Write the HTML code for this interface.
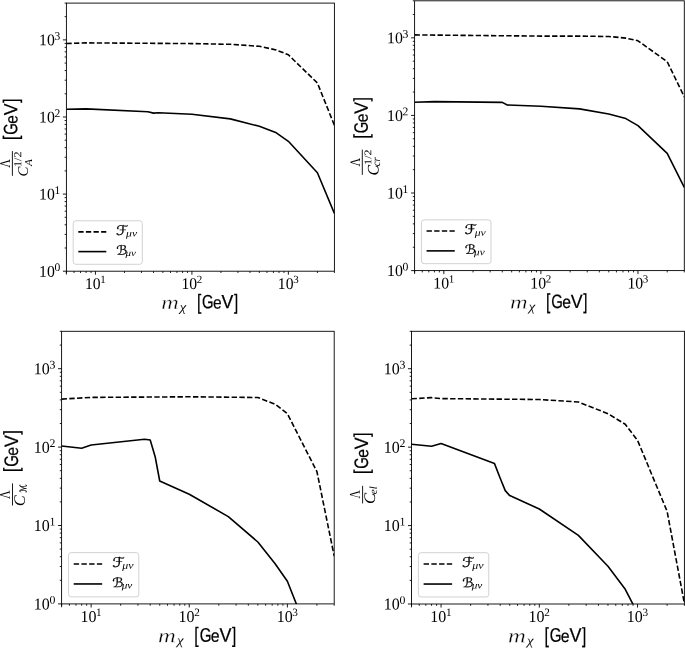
<!DOCTYPE html>
<html><head><meta charset="utf-8"><style>
html,body{margin:0;padding:0;background:#fff;}
svg{display:block;}
text{font-kerning:none;}
</style></head><body>
<svg width="685" height="648" viewBox="0 0 685 648">
<rect width="685" height="648" fill="#fff"/>
<clipPath id="c0"><rect x="66.40" y="3.10" width="268.00" height="268.10"/></clipPath>
<g clip-path="url(#c0)" fill="none" stroke="#000" stroke-width="1.6" stroke-linejoin="round">
<polyline points="66.40,43.50 86.09,42.90 191.91,43.60 230.29,44.30 259.33,46.30 276.32,50.00 288.37,54.80 317.41,83.00 334.40,125.30" stroke-dasharray="5.30 2.30"/>
<polyline points="66.40,109.30 86.09,108.90 147.92,111.70 153.52,113.10 158.45,112.70 191.91,114.20 230.29,118.90 259.33,126.30 276.32,132.80 288.37,141.30 317.41,172.80 334.40,213.50"/>
</g>
<path d="M95.44 271.20v3.50 M191.91 271.20v3.50 M288.37 271.20v3.50 M66.40 271.20v3.30 M66.40 271.20h-3.50 M66.40 194.10h-3.50 M66.40 116.99h-3.50 M66.40 39.89h-3.50" stroke="#000" stroke-width="0.9" fill="none"/>
<path d="M66.40 247.99h-1.80 M66.40 234.41h-1.80 M66.40 224.78h-1.80 M66.40 271.20v1.80 M66.40 217.31h-1.80 M74.04 271.20v1.80 M66.40 211.20h-1.80 M80.50 271.20v1.80 M66.40 206.04h-1.80 M86.09 271.20v1.80 M66.40 201.57h-1.80 M91.03 271.20v1.80 M66.40 197.62h-1.80 M124.48 271.20v1.80 M66.40 170.89h-1.80 M141.47 271.20v1.80 M66.40 157.31h-1.80 M153.52 271.20v1.80 M66.40 147.67h-1.80 M162.87 271.20v1.80 M66.40 140.20h-1.80 M170.51 271.20v1.80 M66.40 134.10h-1.80 M176.96 271.20v1.80 M66.40 128.94h-1.80 M182.56 271.20v1.80 M66.40 124.46h-1.80 M187.49 271.20v1.80 M66.40 120.52h-1.80 M220.95 271.20v1.80 M66.40 93.78h-1.80 M237.93 271.20v1.80 M66.40 80.20h-1.80 M249.99 271.20v1.80 M66.40 70.57h-1.80 M259.33 271.20v1.80 M66.40 63.10h-1.80 M266.97 271.20v1.80 M66.40 56.99h-1.80 M273.43 271.20v1.80 M66.40 51.83h-1.80 M279.02 271.20v1.80 M66.40 47.36h-1.80 M283.96 271.20v1.80 M66.40 43.42h-1.80 M317.41 271.20v1.80 M66.40 16.68h-1.80 M334.40 271.20v1.80 M66.40 3.10h-1.80" stroke="#000" stroke-width="0.85" fill="none"/>
<rect x="66.40" y="3.10" width="268.00" height="268.10" fill="none" stroke="#000" stroke-width="0.9"/>
<line x1="12.40" y1="151.10" x2="12.40" y2="175.80" stroke="#000" stroke-width="0.9"/>
<rect x="73.20" y="220.80" width="69.10" height="43.50" rx="2.60" fill="#fff" fill-opacity="0.8" stroke="#cdcdcd" stroke-width="0.9"/>
<line x1="78.30" y1="231.90" x2="106.30" y2="231.90" stroke="#000" stroke-width="1.6" stroke-dasharray="5.30 2.30"/>
<line x1="78.30" y1="251.60" x2="106.30" y2="251.60" stroke="#000" stroke-width="1.6"/>
<clipPath id="c1"><rect x="414.60" y="0.80" width="269.70" height="269.80"/></clipPath>
<g clip-path="url(#c1)" fill="none" stroke="#000" stroke-width="1.6" stroke-linejoin="round">
<polyline points="414.60,34.90 540.90,36.10 579.53,36.10 608.76,36.50 625.85,38.10 637.98,40.80 667.21,61.70 684.30,96.80" stroke-dasharray="5.33 2.31"/>
<polyline points="414.60,102.30 434.42,101.60 502.27,102.40 507.24,105.00 540.90,106.30 579.53,108.90 608.76,114.00 625.85,118.60 637.98,125.60 667.21,153.30 684.30,187.50"/>
</g>
<path d="M443.82 270.60v3.52 M540.90 270.60v3.52 M637.98 270.60v3.52 M414.60 270.60v3.32 M414.60 270.60h-3.52 M414.60 193.01h-3.52 M414.60 115.41h-3.52 M414.60 37.82h-3.52" stroke="#000" stroke-width="0.9" fill="none"/>
<path d="M414.60 247.24h-1.81 M414.60 233.58h-1.81 M414.60 223.88h-1.81 M414.60 270.60v1.81 M414.60 216.36h-1.81 M422.29 270.60v1.81 M414.60 210.22h-1.81 M428.79 270.60v1.81 M414.60 205.03h-1.81 M434.42 270.60v1.81 M414.60 200.53h-1.81 M439.38 270.60v1.81 M414.60 196.56h-1.81 M473.05 270.60v1.81 M414.60 169.65h-1.81 M490.14 270.60v1.81 M414.60 155.99h-1.81 M502.27 270.60v1.81 M414.60 146.29h-1.81 M511.68 270.60v1.81 M414.60 138.77h-1.81 M519.37 270.60v1.81 M414.60 132.63h-1.81 M525.86 270.60v1.81 M414.60 127.43h-1.81 M531.49 270.60v1.81 M414.60 122.93h-1.81 M536.46 270.60v1.81 M414.60 118.96h-1.81 M570.13 270.60v1.81 M414.60 92.06h-1.81 M587.22 270.60v1.81 M414.60 78.39h-1.81 M599.35 270.60v1.81 M414.60 68.70h-1.81 M608.76 270.60v1.81 M414.60 61.18h-1.81 M616.44 270.60v1.81 M414.60 55.04h-1.81 M622.94 270.60v1.81 M414.60 49.84h-1.81 M628.57 270.60v1.81 M414.60 45.34h-1.81 M633.54 270.60v1.81 M414.60 41.37h-1.81 M667.21 270.60v1.81 M414.60 14.46h-1.81 M684.30 270.60v1.81 M414.60 0.80h-1.81" stroke="#000" stroke-width="0.85" fill="none"/>
<rect x="414.60" y="0.80" width="269.70" height="269.80" fill="none" stroke="#000" stroke-width="0.9"/>
<line x1="362.30" y1="149.60" x2="362.30" y2="174.90" stroke="#000" stroke-width="0.9"/>
<rect x="421.44" y="219.88" width="69.54" height="43.78" rx="2.62" fill="#fff" fill-opacity="0.8" stroke="#cdcdcd" stroke-width="0.9"/>
<line x1="426.58" y1="231.05" x2="454.75" y2="231.05" stroke="#000" stroke-width="1.6" stroke-dasharray="5.33 2.31"/>
<line x1="426.58" y1="250.88" x2="454.75" y2="250.88" stroke="#000" stroke-width="1.6"/>
<clipPath id="c2"><rect x="61.60" y="331.30" width="272.60" height="272.60"/></clipPath>
<g clip-path="url(#c2)" fill="none" stroke="#000" stroke-width="1.6" stroke-linejoin="round">
<polyline points="61.60,399.10 91.14,397.40 189.26,396.80 257.85,397.50 275.12,404.20 287.38,413.70 316.92,471.60 334.20,556.00" stroke-dasharray="5.39 2.34"/>
<polyline points="61.60,446.00 81.63,448.20 91.14,445.00 144.52,439.30 150.21,440.00 155.23,457.00 159.72,481.00 189.26,494.30 228.31,516.60 257.85,542.00 275.12,563.70 287.38,581.30 296.60,604.60"/>
</g>
<path d="M91.14 603.90v3.56 M189.26 603.90v3.56 M287.38 603.90v3.56 M61.60 603.90v3.36 M61.60 603.90h-3.56 M61.60 525.50h-3.56 M61.60 447.10h-3.56 M61.60 368.71h-3.56" stroke="#000" stroke-width="0.9" fill="none"/>
<path d="M61.60 580.30h-1.83 M61.60 566.49h-1.83 M61.60 556.70h-1.83 M61.60 603.90v1.83 M61.60 549.10h-1.83 M69.37 603.90v1.83 M61.60 542.89h-1.83 M75.94 603.90v1.83 M61.60 537.65h-1.83 M81.63 603.90v1.83 M61.60 533.10h-1.83 M86.65 603.90v1.83 M61.60 529.09h-1.83 M120.68 603.90v1.83 M61.60 501.90h-1.83 M137.95 603.90v1.83 M61.60 488.10h-1.83 M150.21 603.90v1.83 M61.60 478.30h-1.83 M159.72 603.90v1.83 M61.60 470.70h-1.83 M167.49 603.90v1.83 M61.60 464.50h-1.83 M174.06 603.90v1.83 M61.60 459.25h-1.83 M179.75 603.90v1.83 M61.60 454.70h-1.83 M184.77 603.90v1.83 M61.60 450.69h-1.83 M218.80 603.90v1.83 M61.60 423.50h-1.83 M236.08 603.90v1.83 M61.60 409.70h-1.83 M248.34 603.90v1.83 M61.60 399.90h-1.83 M257.85 603.90v1.83 M61.60 392.31h-1.83 M265.62 603.90v1.83 M61.60 386.10h-1.83 M272.18 603.90v1.83 M61.60 380.85h-1.83 M277.87 603.90v1.83 M61.60 376.30h-1.83 M282.89 603.90v1.83 M61.60 372.29h-1.83 M316.92 603.90v1.83 M61.60 345.11h-1.83 M334.20 603.90v1.83 M61.60 331.30h-1.83" stroke="#000" stroke-width="0.85" fill="none"/>
<rect x="61.60" y="331.30" width="272.60" height="272.60" fill="none" stroke="#000" stroke-width="0.9"/>
<line x1="12.50" y1="483.40" x2="12.50" y2="505.50" stroke="#000" stroke-width="0.9"/>
<rect x="68.52" y="552.63" width="70.29" height="44.25" rx="2.64" fill="#fff" fill-opacity="0.8" stroke="#cdcdcd" stroke-width="0.9"/>
<line x1="73.70" y1="563.93" x2="102.18" y2="563.93" stroke="#000" stroke-width="1.6" stroke-dasharray="5.39 2.34"/>
<line x1="73.70" y1="583.96" x2="102.18" y2="583.96" stroke="#000" stroke-width="1.6"/>
<clipPath id="c3"><rect x="411.50" y="331.30" width="272.90" height="272.70"/></clipPath>
<g clip-path="url(#c3)" fill="none" stroke="#000" stroke-width="1.6" stroke-linejoin="round">
<polyline points="411.50,398.80 431.55,397.60 441.07,398.60 539.30,399.50 578.39,402.00 607.96,413.70 625.26,424.30 637.53,440.30 667.10,511.30 684.40,603.50" stroke-dasharray="5.40 2.34"/>
<polyline points="411.50,444.20 431.55,446.30 441.07,443.50 494.51,463.60 500.21,478.30 505.24,490.60 509.73,495.60 539.30,509.00 578.39,535.40 607.96,566.20 625.26,589.30 633.20,604.70"/>
</g>
<path d="M441.07 604.00v3.56 M539.30 604.00v3.56 M637.53 604.00v3.56 M411.50 604.00v3.36 M411.50 604.00h-3.56 M411.50 525.57h-3.56 M411.50 447.15h-3.56 M411.50 368.72h-3.56" stroke="#000" stroke-width="0.9" fill="none"/>
<path d="M411.50 580.39h-1.83 M411.50 566.58h-1.83 M411.50 556.78h-1.83 M411.50 604.00v1.83 M411.50 549.18h-1.83 M419.28 604.00v1.83 M411.50 542.97h-1.83 M425.85 604.00v1.83 M411.50 537.72h-1.83 M431.55 604.00v1.83 M411.50 533.17h-1.83 M436.58 604.00v1.83 M411.50 529.16h-1.83 M470.64 604.00v1.83 M411.50 501.96h-1.83 M487.94 604.00v1.83 M411.50 488.15h-1.83 M500.21 604.00v1.83 M411.50 478.36h-1.83 M509.73 604.00v1.83 M411.50 470.75h-1.83 M517.51 604.00v1.83 M411.50 464.55h-1.83 M524.09 604.00v1.83 M411.50 459.29h-1.83 M529.78 604.00v1.83 M411.50 454.75h-1.83 M534.81 604.00v1.83 M411.50 450.73h-1.83 M568.87 604.00v1.83 M411.50 423.54h-1.83 M586.17 604.00v1.83 M411.50 409.73h-1.83 M598.44 604.00v1.83 M411.50 399.93h-1.83 M607.96 604.00v1.83 M411.50 392.33h-1.83 M615.74 604.00v1.83 M411.50 386.12h-1.83 M622.32 604.00v1.83 M411.50 380.87h-1.83 M628.01 604.00v1.83 M411.50 376.32h-1.83 M633.04 604.00v1.83 M411.50 372.31h-1.83 M667.10 604.00v1.83 M411.50 345.11h-1.83 M684.40 604.00v1.83 M411.50 331.30h-1.83" stroke="#000" stroke-width="0.85" fill="none"/>
<rect x="411.50" y="331.30" width="272.90" height="272.70" fill="none" stroke="#000" stroke-width="0.9"/>
<line x1="362.60" y1="485.80" x2="362.60" y2="503.40" stroke="#000" stroke-width="0.9"/>
<rect x="418.42" y="552.68" width="70.36" height="44.30" rx="2.65" fill="#fff" fill-opacity="0.8" stroke="#cdcdcd" stroke-width="0.9"/>
<line x1="423.62" y1="563.98" x2="452.13" y2="563.98" stroke="#000" stroke-width="1.6" stroke-dasharray="5.40 2.34"/>
<line x1="423.62" y1="584.04" x2="452.13" y2="584.04" stroke="#000" stroke-width="1.6"/>
<g font-size="100" fill="#000">
<text transform="translate(39.08,276.64) skewY(0.05) scale(0.1575,0.1627)" font-family="'Liberation Serif', serif">10</text>
<text transform="translate(39.08,199.53) skewY(0.05) scale(0.1575,0.1627)" font-family="'Liberation Serif', serif">10</text>
<text transform="translate(39.08,122.43) skewY(0.05) scale(0.1575,0.1627)" font-family="'Liberation Serif', serif">10</text>
<text transform="translate(39.08,45.33) skewY(0.05) scale(0.1575,0.1627)" font-family="'Liberation Serif', serif">10</text>
<text transform="translate(84.93,288.94) skewY(0.05) scale(0.1569,0.1627)" font-family="'Liberation Serif', serif">10</text>
<text transform="translate(181.39,288.94) skewY(0.05) scale(0.1569,0.1627)" font-family="'Liberation Serif', serif">10</text>
<text transform="translate(277.86,288.94) skewY(0.05) scale(0.1569,0.1627)" font-family="'Liberation Serif', serif">10</text>
<text transform="translate(161.13,309.00) skewY(0.05) scale(0.2422,0.1957)" font-family="'Liberation Serif', serif" font-style="italic" stroke="#fff" stroke-width="1.60" stroke-linejoin="round">m</text>
<text transform="translate(179.87,311.17) skewY(0.05) scale(0.1463,0.1299)" font-family="'Liberation Serif', serif" font-style="italic">χ</text>
<text transform="translate(196.91,309.15) skewY(0.05) scale(0.1550,0.2118)" font-family="'Liberation Sans', sans-serif" stroke="#000" stroke-width="1.09" stroke-linejoin="round">[</text>
<text transform="translate(202.11,308.31) skewY(0.05) scale(0.1485,0.1937)" font-family="'Liberation Sans', sans-serif" stroke="#000" stroke-width="1.17" stroke-linejoin="round">G</text>
<text transform="translate(213.02,308.43) skewY(0.05) scale(0.1564,0.1736)" font-family="'Liberation Sans', sans-serif" stroke="#000" stroke-width="1.21" stroke-linejoin="round">e</text>
<text transform="translate(221.57,308.30) skewY(0.05) scale(0.1769,0.1913)" font-family="'Liberation Sans', sans-serif" stroke="#000" stroke-width="1.09" stroke-linejoin="round">V</text>
<text transform="translate(233.90,309.15) skewY(0.05) scale(0.1500,0.2118)" font-family="'Liberation Sans', sans-serif" stroke="#000" stroke-width="1.11" stroke-linejoin="round">]</text>
<text transform="translate(17.77,139.89) rotate(-90) skewY(0.05) scale(0.1552,0.2067)" font-family="'Liberation Sans', sans-serif" stroke="#000" stroke-width="1.11" stroke-linejoin="round">[</text>
<text transform="translate(17.31,134.69) rotate(-90) skewY(0.05) scale(0.1487,0.1939)" font-family="'Liberation Sans', sans-serif" stroke="#000" stroke-width="1.17" stroke-linejoin="round">G</text>
<text transform="translate(17.43,123.76) rotate(-90) skewY(0.05) scale(0.1566,0.1739)" font-family="'Liberation Sans', sans-serif" stroke="#000" stroke-width="1.21" stroke-linejoin="round">e</text>
<text transform="translate(17.30,115.20) rotate(-90) skewY(0.05) scale(0.1771,0.1915)" font-family="'Liberation Sans', sans-serif" stroke="#000" stroke-width="1.08" stroke-linejoin="round">V</text>
<text transform="translate(17.77,102.85) rotate(-90) skewY(0.05) scale(0.1502,0.2067)" font-family="'Liberation Sans', sans-serif" stroke="#000" stroke-width="1.12" stroke-linejoin="round">]</text>
<text transform="translate(10.00,167.72) rotate(-90) skewY(0.05) scale(0.1200,0.1485)" font-family="'Liberation Serif', serif">Λ</text>
<text transform="translate(27.66,176.40) rotate(-90) skewY(0.05) scale(0.1492,0.1448)" font-family="'Liberation Serif', serif" font-style="italic">C</text>
<text transform="translate(21.19,166.99) rotate(-90) skewY(0.05) scale(0.1212,0.1075)" font-family="'Liberation Serif', serif">1/2</text>
<text transform="translate(32.00,166.04) rotate(-90) skewY(0.05) scale(0.1121,0.1045)" font-family="'Liberation Serif', serif" font-style="italic">A</text>
<text transform="translate(116.07,234.93) skewY(0.05) scale(0.1563,0.1338)" font-family="'DejaVu Sans', sans-serif" stroke="#000" stroke-width="1.72" stroke-linejoin="round">ℱ</text>
<text transform="translate(126.10,236.60) skewY(0.05) scale(0.1168,0.1000)" font-family="'Liberation Serif', serif" font-style="italic">μν</text>
<text transform="translate(116.29,254.80) skewY(0.05) scale(0.1412,0.1299)" font-family="'DejaVu Sans', sans-serif" stroke="#000" stroke-width="1.84" stroke-linejoin="round">ℬ</text>
<text transform="translate(125.50,255.99) skewY(0.05) scale(0.1105,0.0955)" font-family="'Liberation Serif', serif" font-style="italic">μν</text>
<text transform="translate(387.11,276.07) skewY(0.05) scale(0.1585,0.1637)" font-family="'Liberation Serif', serif">10</text>
<text transform="translate(387.11,198.48) skewY(0.05) scale(0.1585,0.1637)" font-family="'Liberation Serif', serif">10</text>
<text transform="translate(387.11,120.89) skewY(0.05) scale(0.1585,0.1637)" font-family="'Liberation Serif', serif">10</text>
<text transform="translate(387.11,43.29) skewY(0.05) scale(0.1585,0.1637)" font-family="'Liberation Serif', serif">10</text>
<text transform="translate(433.24,288.45) skewY(0.05) scale(0.1579,0.1637)" font-family="'Liberation Serif', serif">10</text>
<text transform="translate(530.32,288.45) skewY(0.05) scale(0.1579,0.1637)" font-family="'Liberation Serif', serif">10</text>
<text transform="translate(627.40,288.45) skewY(0.05) scale(0.1579,0.1637)" font-family="'Liberation Serif', serif">10</text>
<text transform="translate(509.93,308.64) skewY(0.05) scale(0.2437,0.1970)" font-family="'Liberation Serif', serif" font-style="italic" stroke="#fff" stroke-width="1.59" stroke-linejoin="round">m</text>
<text transform="translate(528.79,310.83) skewY(0.05) scale(0.1472,0.1307)" font-family="'Liberation Serif', serif" font-style="italic">χ</text>
<text transform="translate(545.94,308.79) skewY(0.05) scale(0.1560,0.2132)" font-family="'Liberation Sans', sans-serif" stroke="#000" stroke-width="1.08" stroke-linejoin="round">[</text>
<text transform="translate(551.17,307.94) skewY(0.05) scale(0.1494,0.1949)" font-family="'Liberation Sans', sans-serif" stroke="#000" stroke-width="1.16" stroke-linejoin="round">G</text>
<text transform="translate(562.15,308.06) skewY(0.05) scale(0.1574,0.1747)" font-family="'Liberation Sans', sans-serif" stroke="#000" stroke-width="1.20" stroke-linejoin="round">e</text>
<text transform="translate(570.76,307.94) skewY(0.05) scale(0.1780,0.1925)" font-family="'Liberation Sans', sans-serif" stroke="#000" stroke-width="1.08" stroke-linejoin="round">V</text>
<text transform="translate(583.16,308.79) skewY(0.05) scale(0.1510,0.2132)" font-family="'Liberation Sans', sans-serif" stroke="#000" stroke-width="1.10" stroke-linejoin="round">]</text>
<text transform="translate(368.17,138.39) rotate(-90) skewY(0.05) scale(0.1556,0.2072)" font-family="'Liberation Sans', sans-serif" stroke="#000" stroke-width="1.10" stroke-linejoin="round">[</text>
<text transform="translate(367.71,133.18) rotate(-90) skewY(0.05) scale(0.1490,0.1944)" font-family="'Liberation Sans', sans-serif" stroke="#000" stroke-width="1.16" stroke-linejoin="round">G</text>
<text transform="translate(367.83,122.22) rotate(-90) skewY(0.05) scale(0.1570,0.1743)" font-family="'Liberation Sans', sans-serif" stroke="#000" stroke-width="1.21" stroke-linejoin="round">e</text>
<text transform="translate(367.70,113.64) rotate(-90) skewY(0.05) scale(0.1776,0.1920)" font-family="'Liberation Sans', sans-serif" stroke="#000" stroke-width="1.08" stroke-linejoin="round">V</text>
<text transform="translate(368.17,101.26) rotate(-90) skewY(0.05) scale(0.1506,0.2072)" font-family="'Liberation Sans', sans-serif" stroke="#000" stroke-width="1.12" stroke-linejoin="round">]</text>
<text transform="translate(359.90,166.62) rotate(-90) skewY(0.05) scale(0.1186,0.1455)" font-family="'Liberation Serif', serif">Λ</text>
<text transform="translate(378.54,175.54) rotate(-90) skewY(0.05) scale(0.1574,0.1612)" font-family="'Liberation Serif', serif" font-style="italic">C</text>
<text transform="translate(371.20,164.88) rotate(-90) skewY(0.05) scale(0.1204,0.1015)" font-family="'Liberation Serif', serif">1/2</text>
<text transform="translate(380.09,166.22) rotate(-90) skewY(0.05) scale(0.1075,0.1146)" font-family="'Liberation Serif', serif" font-style="italic">cr</text>
<text transform="translate(464.59,234.10) skewY(0.05) scale(0.1573,0.1346)" font-family="'DejaVu Sans', sans-serif" stroke="#000" stroke-width="1.71" stroke-linejoin="round">ℱ</text>
<text transform="translate(474.68,235.78) skewY(0.05) scale(0.1176,0.1006)" font-family="'Liberation Serif', serif" font-style="italic">μν</text>
<text transform="translate(464.81,254.10) skewY(0.05) scale(0.1421,0.1307)" font-family="'DejaVu Sans', sans-serif" stroke="#000" stroke-width="1.83" stroke-linejoin="round">ℬ</text>
<text transform="translate(474.07,255.30) skewY(0.05) scale(0.1112,0.0961)" font-family="'Liberation Serif', serif" font-style="italic">μν</text>
<text transform="translate(33.81,609.43) skewY(0.05) scale(0.1602,0.1655)" font-family="'Liberation Serif', serif">10</text>
<text transform="translate(33.81,531.03) skewY(0.05) scale(0.1602,0.1655)" font-family="'Liberation Serif', serif">10</text>
<text transform="translate(33.81,452.63) skewY(0.05) scale(0.1602,0.1655)" font-family="'Liberation Serif', serif">10</text>
<text transform="translate(33.81,374.24) skewY(0.05) scale(0.1602,0.1655)" font-family="'Liberation Serif', serif">10</text>
<text transform="translate(80.45,621.94) skewY(0.05) scale(0.1596,0.1655)" font-family="'Liberation Serif', serif">10</text>
<text transform="translate(178.57,621.94) skewY(0.05) scale(0.1596,0.1655)" font-family="'Liberation Serif', serif">10</text>
<text transform="translate(276.69,621.94) skewY(0.05) scale(0.1596,0.1655)" font-family="'Liberation Serif', serif">10</text>
<text transform="translate(157.96,642.35) skewY(0.05) scale(0.2463,0.1991)" font-family="'Liberation Serif', serif" font-style="italic" stroke="#fff" stroke-width="1.57" stroke-linejoin="round">m</text>
<text transform="translate(177.02,644.56) skewY(0.05) scale(0.1488,0.1321)" font-family="'Liberation Serif', serif" font-style="italic">χ</text>
<text transform="translate(194.36,642.50) skewY(0.05) scale(0.1577,0.2155)" font-family="'Liberation Sans', sans-serif" stroke="#000" stroke-width="1.07" stroke-linejoin="round">[</text>
<text transform="translate(199.64,641.64) skewY(0.05) scale(0.1510,0.1970)" font-family="'Liberation Sans', sans-serif" stroke="#000" stroke-width="1.15" stroke-linejoin="round">G</text>
<text transform="translate(210.74,641.77) skewY(0.05) scale(0.1591,0.1766)" font-family="'Liberation Sans', sans-serif" stroke="#000" stroke-width="1.19" stroke-linejoin="round">e</text>
<text transform="translate(219.44,641.64) skewY(0.05) scale(0.1800,0.1946)" font-family="'Liberation Sans', sans-serif" stroke="#000" stroke-width="1.07" stroke-linejoin="round">V</text>
<text transform="translate(231.98,642.50) skewY(0.05) scale(0.1526,0.2155)" font-family="'Liberation Sans', sans-serif" stroke="#000" stroke-width="1.09" stroke-linejoin="round">]</text>
<text transform="translate(18.37,472.00) rotate(-90) skewY(0.05) scale(0.1568,0.2088)" font-family="'Liberation Sans', sans-serif" stroke="#000" stroke-width="1.09" stroke-linejoin="round">[</text>
<text transform="translate(17.91,466.74) rotate(-90) skewY(0.05) scale(0.1502,0.1959)" font-family="'Liberation Sans', sans-serif" stroke="#000" stroke-width="1.16" stroke-linejoin="round">G</text>
<text transform="translate(18.03,455.70) rotate(-90) skewY(0.05) scale(0.1582,0.1756)" font-family="'Liberation Sans', sans-serif" stroke="#000" stroke-width="1.20" stroke-linejoin="round">e</text>
<text transform="translate(17.90,447.06) rotate(-90) skewY(0.05) scale(0.1790,0.1935)" font-family="'Liberation Sans', sans-serif" stroke="#000" stroke-width="1.07" stroke-linejoin="round">V</text>
<text transform="translate(18.37,434.59) rotate(-90) skewY(0.05) scale(0.1517,0.2088)" font-family="'Liberation Sans', sans-serif" stroke="#000" stroke-width="1.11" stroke-linejoin="round">]</text>
<text transform="translate(9.70,498.92) rotate(-90) skewY(0.05) scale(0.1200,0.1470)" font-family="'Liberation Serif', serif">Λ</text>
<text transform="translate(24.74,506.28) rotate(-90) skewY(0.05) scale(0.1639,0.1582)" font-family="'Liberation Serif', serif" font-style="italic">C</text>
<text transform="translate(26.42,492.53) rotate(-90) skewY(0.05) scale(0.0760,0.0936)" font-family="'DejaVu Sans', sans-serif" stroke="#000" stroke-width="2.95" stroke-linejoin="round">ℳ</text>
<text transform="translate(112.13,567.01) skewY(0.05) scale(0.1590,0.1361)" font-family="'DejaVu Sans', sans-serif" stroke="#000" stroke-width="1.69" stroke-linejoin="round">ℱ</text>
<text transform="translate(122.32,568.71) skewY(0.05) scale(0.1188,0.1017)" font-family="'Liberation Serif', serif" font-style="italic">μν</text>
<text transform="translate(112.35,587.22) skewY(0.05) scale(0.1436,0.1321)" font-family="'DejaVu Sans', sans-serif" stroke="#000" stroke-width="1.81" stroke-linejoin="round">ℬ</text>
<text transform="translate(121.71,588.43) skewY(0.05) scale(0.1124,0.0972)" font-family="'Liberation Serif', serif" font-style="italic">μν</text>
<text transform="translate(383.68,609.54) skewY(0.05) scale(0.1604,0.1657)" font-family="'Liberation Serif', serif">10</text>
<text transform="translate(383.68,531.11) skewY(0.05) scale(0.1604,0.1657)" font-family="'Liberation Serif', serif">10</text>
<text transform="translate(383.68,452.68) skewY(0.05) scale(0.1604,0.1657)" font-family="'Liberation Serif', serif">10</text>
<text transform="translate(383.68,374.26) skewY(0.05) scale(0.1604,0.1657)" font-family="'Liberation Serif', serif">10</text>
<text transform="translate(430.37,622.06) skewY(0.05) scale(0.1598,0.1657)" font-family="'Liberation Serif', serif">10</text>
<text transform="translate(528.60,622.06) skewY(0.05) scale(0.1598,0.1657)" font-family="'Liberation Serif', serif">10</text>
<text transform="translate(626.83,622.06) skewY(0.05) scale(0.1598,0.1657)" font-family="'Liberation Serif', serif">10</text>
<text transform="translate(507.96,642.49) skewY(0.05) scale(0.2466,0.1993)" font-family="'Liberation Serif', serif" font-style="italic" stroke="#fff" stroke-width="1.57" stroke-linejoin="round">m</text>
<text transform="translate(527.05,644.70) skewY(0.05) scale(0.1490,0.1322)" font-family="'Liberation Serif', serif" font-style="italic">χ</text>
<text transform="translate(544.40,642.65) skewY(0.05) scale(0.1578,0.2157)" font-family="'Liberation Sans', sans-serif" stroke="#000" stroke-width="1.07" stroke-linejoin="round">[</text>
<text transform="translate(549.69,641.78) skewY(0.05) scale(0.1512,0.1972)" font-family="'Liberation Sans', sans-serif" stroke="#000" stroke-width="1.15" stroke-linejoin="round">G</text>
<text transform="translate(560.81,641.91) skewY(0.05) scale(0.1592,0.1768)" font-family="'Liberation Sans', sans-serif" stroke="#000" stroke-width="1.19" stroke-linejoin="round">e</text>
<text transform="translate(569.51,641.78) skewY(0.05) scale(0.1802,0.1948)" font-family="'Liberation Sans', sans-serif" stroke="#000" stroke-width="1.07" stroke-linejoin="round">V</text>
<text transform="translate(582.06,642.65) skewY(0.05) scale(0.1527,0.2157)" font-family="'Liberation Sans', sans-serif" stroke="#000" stroke-width="1.09" stroke-linejoin="round">]</text>
<text transform="translate(368.47,473.99) rotate(-90) skewY(0.05) scale(0.1560,0.2078)" font-family="'Liberation Sans', sans-serif" stroke="#000" stroke-width="1.10" stroke-linejoin="round">[</text>
<text transform="translate(368.01,468.77) rotate(-90) skewY(0.05) scale(0.1494,0.1949)" font-family="'Liberation Sans', sans-serif" stroke="#000" stroke-width="1.16" stroke-linejoin="round">G</text>
<text transform="translate(368.13,457.78) rotate(-90) skewY(0.05) scale(0.1574,0.1747)" font-family="'Liberation Sans', sans-serif" stroke="#000" stroke-width="1.20" stroke-linejoin="round">e</text>
<text transform="translate(368.00,449.18) rotate(-90) skewY(0.05) scale(0.1781,0.1925)" font-family="'Liberation Sans', sans-serif" stroke="#000" stroke-width="1.08" stroke-linejoin="round">V</text>
<text transform="translate(368.47,436.77) rotate(-90) skewY(0.05) scale(0.1510,0.2078)" font-family="'Liberation Sans', sans-serif" stroke="#000" stroke-width="1.12" stroke-linejoin="round">]</text>
<text transform="translate(359.80,498.62) rotate(-90) skewY(0.05) scale(0.1157,0.1500)" font-family="'Liberation Serif', serif">Λ</text>
<text transform="translate(375.04,504.10) rotate(-90) skewY(0.05) scale(0.1672,0.1612)" font-family="'Liberation Serif', serif" font-style="italic">C</text>
<text transform="translate(376.69,494.13) rotate(-90) skewY(0.05) scale(0.1104,0.1057)" font-family="'Liberation Serif', serif" font-style="italic">el</text>
<text transform="translate(462.08,567.07) skewY(0.05) scale(0.1592,0.1362)" font-family="'DejaVu Sans', sans-serif" stroke="#000" stroke-width="1.69" stroke-linejoin="round">ℱ</text>
<text transform="translate(472.29,568.77) skewY(0.05) scale(0.1190,0.1018)" font-family="'Liberation Serif', serif" font-style="italic">μν</text>
<text transform="translate(462.31,587.30) skewY(0.05) scale(0.1438,0.1322)" font-family="'DejaVu Sans', sans-serif" stroke="#000" stroke-width="1.81" stroke-linejoin="round">ℬ</text>
<text transform="translate(471.68,588.52) skewY(0.05) scale(0.1125,0.0973)" font-family="'Liberation Serif', serif" font-style="italic">μν</text>
</g>
<g font-family="'Liberation Serif', serif" fill="#000">
<text transform="translate(54.50,271.10) skewY(0.05)" font-size="11.60">0</text>
<text transform="translate(54.50,194.00) skewY(0.05)" font-size="11.60">1</text>
<text transform="translate(54.50,116.89) skewY(0.05)" font-size="11.60">2</text>
<text transform="translate(54.50,39.79) skewY(0.05)" font-size="11.60">3</text>
<text transform="translate(100.29,283.10) skewY(0.05)" font-size="11.00">1</text>
<text transform="translate(196.76,283.10) skewY(0.05)" font-size="11.00">2</text>
<text transform="translate(293.22,283.10) skewY(0.05)" font-size="11.00">3</text>
<text transform="translate(402.62,270.50) skewY(0.05)" font-size="11.67">0</text>
<text transform="translate(402.62,192.91) skewY(0.05)" font-size="11.67">1</text>
<text transform="translate(402.62,115.31) skewY(0.05)" font-size="11.67">2</text>
<text transform="translate(402.62,37.72) skewY(0.05)" font-size="11.67">3</text>
<text transform="translate(448.70,282.58) skewY(0.05)" font-size="11.07">1</text>
<text transform="translate(545.78,282.58) skewY(0.05)" font-size="11.07">2</text>
<text transform="translate(642.86,282.58) skewY(0.05)" font-size="11.07">3</text>
<text transform="translate(49.50,603.80) skewY(0.05)" font-size="11.80">0</text>
<text transform="translate(49.50,525.40) skewY(0.05)" font-size="11.80">1</text>
<text transform="translate(49.50,447.00) skewY(0.05)" font-size="11.80">2</text>
<text transform="translate(49.50,368.60) skewY(0.05)" font-size="11.80">3</text>
<text transform="translate(96.07,616.00) skewY(0.05)" font-size="11.19">1</text>
<text transform="translate(194.19,616.00) skewY(0.05)" font-size="11.19">2</text>
<text transform="translate(292.32,616.00) skewY(0.05)" font-size="11.19">3</text>
<text transform="translate(399.38,603.90) skewY(0.05)" font-size="11.81">0</text>
<text transform="translate(399.38,525.47) skewY(0.05)" font-size="11.81">1</text>
<text transform="translate(399.38,447.04) skewY(0.05)" font-size="11.81">2</text>
<text transform="translate(399.38,368.62) skewY(0.05)" font-size="11.81">3</text>
<text transform="translate(446.01,616.12) skewY(0.05)" font-size="11.20">1</text>
<text transform="translate(544.24,616.12) skewY(0.05)" font-size="11.20">2</text>
<text transform="translate(642.47,616.12) skewY(0.05)" font-size="11.20">3</text>
</g>
</svg>
</body></html>
